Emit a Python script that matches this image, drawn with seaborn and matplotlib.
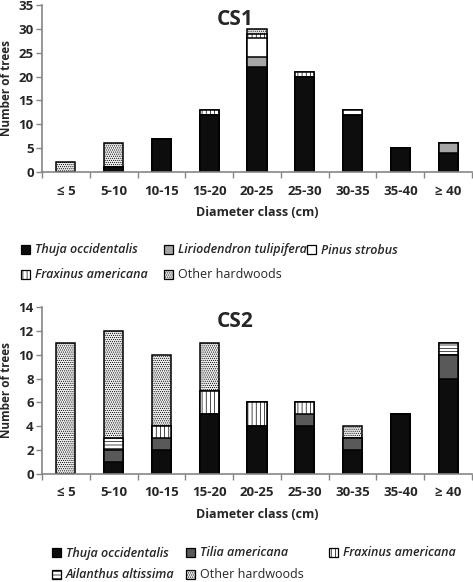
import matplotlib
matplotlib.use("Agg")
import matplotlib.pyplot as plt
import seaborn as sns
import numpy as np
import pandas as pd
from matplotlib.patches import Patch

classes = ["≤ 5", "5-10", "10-15", "15-20", "20-25", "25-30", "30-35", "35-40", "≥ 40"]

# CS1
cs1_thuja = [0, 1, 7, 12, 22, 20, 12, 5, 4]
cs1_lirio = [0, 0, 0, 0, 2, 0, 0, 0, 2]
cs1_pinus = [0, 0, 0, 0, 4, 0, 1, 0, 0]
cs1_fraxinus = [0, 0, 0, 1, 1, 1, 0, 0, 0]
cs1_other = [2, 5, 0, 0, 1, 0, 0, 0, 0]

# CS2
cs2_thuja = [0, 1, 2, 5, 4, 4, 2, 5, 8]
cs2_tilia = [0, 1, 1, 0, 0, 1, 1, 0, 2]
cs2_fraxinus = [0, 0, 1, 2, 2, 1, 0, 0, 0]
cs2_ailanthus = [0, 1, 0, 0, 0, 0, 0, 0, 1]
cs2_other = [11, 9, 6, 4, 0, 0, 1, 0, 0]

cs1_names = ["Thuja occidentalis", "Liriodendron tulipifera", "Pinus strobus",
             "Fraxinus americana", "Other hardwoods"]
cs2_names = ["Thuja occidentalis", "Tilia americana", "Fraxinus americana",
             "Ailanthus altissima", "Other hardwoods"]

sns.set_style("white")
plt.rcParams['font.family'] = ['Open Sans', 'DejaVu Sans']
plt.rcParams['hatch.linewidth'] = 0.5

W, H = 473, 582
fig = plt.figure(figsize=(W / 100, H / 100), dpi=100)
ax1 = fig.add_axes([42 / W, 1 - 172 / H, 430 / W, 167 / H])
ax2 = fig.add_axes([42 / W, 1 - 474 / H, 430 / W, 167 / H])

GRAY = "#868686"
OTHER_HATCH = "........"


def draw(ax, layers, ymax, ystep, title):
    cum = np.zeros(len(classes))
    cums = []
    for vals, col, hatch in layers:
        cum = cum + np.array(vals, dtype=float)
        cums.append((cum.copy(), col, hatch))
    for c, col, hatch in reversed(cums):
        df = pd.DataFrame({"cls": classes, "v": c})
        sns.barplot(data=df, x="cls", y="v", ax=ax, color=col, width=0.4,
                    saturation=1, edgecolor="black", linewidth=1.1,
                    hatch=hatch, order=classes)
    ax.set_xlim(-0.5, 8.5)
    ax.set_ylim(0, ymax)
    ax.set_yticks(np.arange(0, ymax + 0.01, ystep))
    ax.set_xticks(np.arange(-0.5, 9, 1), minor=True)
    ax.tick_params(axis="x", which="major", length=0, pad=9)
    ax.tick_params(axis="x", which="minor", length=4, color=GRAY, width=1,
                   direction="out", bottom=True)
    ax.tick_params(axis="y", which="major", length=4, color=GRAY, width=1,
                   direction="out", left=True, pad=2)
    for lab in ax.get_xticklabels() + ax.get_yticklabels():
        lab.set_fontweight("bold")
        lab.set_fontsize(9.5)
    for s in ["top", "right"]:
        ax.spines[s].set_visible(False)
    for s in ["left", "bottom"]:
        ax.spines[s].set_color(GRAY)
        ax.spines[s].set_linewidth(1.2)
    ax.set_xlabel("Diameter class (cm)", fontsize=9, fontweight="bold", labelpad=6)
    ax.set_ylabel("Number of trees", fontsize=8.5, fontweight="bold", labelpad=4)
    ax.text(0.45, 0.915, title, transform=ax.transAxes, ha="center", va="center",
            fontsize=15, fontweight="bold")


l1 = [(cs1_thuja, "#0d0d0d", None), (cs1_lirio, "#a6a6a6", None), (cs1_pinus, "white", None),
      (cs1_fraxinus, "white", "||||"), (cs1_other, "#eeeeee", OTHER_HATCH)]
draw(ax1, l1, 35, 5, "CS1")
l2 = [(cs2_thuja, "#0d0d0d", None), (cs2_tilia, "#595959", None), (cs2_fraxinus, "white", "||||"),
      (cs2_ailanthus, "white", "-----"), (cs2_other, "#eeeeee", OTHER_HATCH)]
draw(ax2, l2, 14, 2, "CS2")


def legend(names, layers, positions):
    for name, (_, c, h), (x, y) in zip(names, layers, positions):
        hd = Patch(facecolor=c, edgecolor="black", hatch=h, linewidth=0.9)
        leg = fig.legend([hd], [name], loc="center left", bbox_to_anchor=(x / W, 1 - y / H),
                         frameon=False, handlelength=0.75, handleheight=0.75,
                         handletextpad=0.35, borderpad=0, borderaxespad=0, fontsize=9)
        t = leg.get_texts()[0]
        if name != "Other hardwoods":
            t.set_fontstyle("italic")
            t.set_fontweight("semibold")


legend(cs1_names, l1, [(21, 250), (164, 250), (307, 250), (21, 275), (164, 275)])
legend(cs2_names, l2, [(52, 553), (186, 553), (329, 553), (52, 575), (186, 575)])

fig.savefig("out.png", dpi=100)
